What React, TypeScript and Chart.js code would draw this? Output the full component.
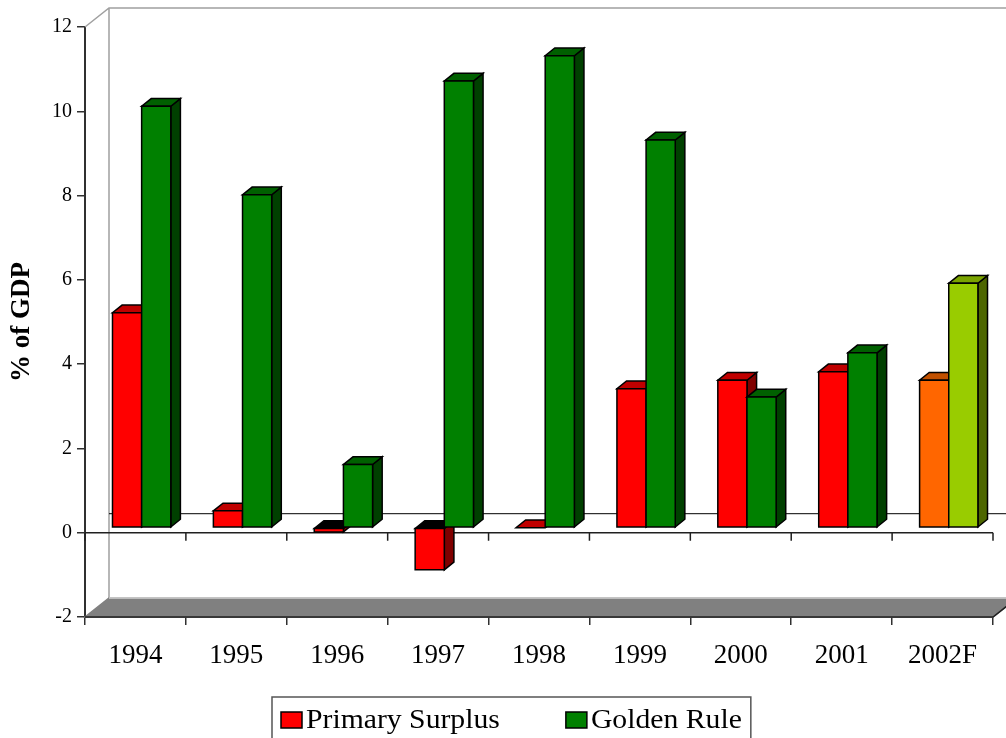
import { useEffect, useRef } from 'react';
import { Chart, registerables } from 'chart.js';

Chart.register(...registerables);

// Fiscal balance indicators, % of GDP
const years = ['1994', '1995', '1996', '1997', '1998', '1999', '2000', '2001', '2002F'];
const primarySurplus = [5.1, 0.4, -0.1, -1.0, 0.0, 3.3, 3.5, 3.7, 3.5];
const goldenRule = [10.0, 7.9, 1.5, 10.6, 11.2, 9.2, 3.1, 4.15, 5.8];
const seriesNames = ['Primary Surplus', 'Golden Rule'];
const primaryFill = ['#ff0000', '#ff0000', '#ff0000', '#ff0000', '#ff0000', '#ff0000', '#ff0000', '#ff0000', '#ff6600'];
const goldenFill = ['#008000', '#008000', '#008000', '#008000', '#008000', '#008000', '#008000', '#008000', '#99cc00'];
const yMin = -2;
const yMax = 12;
const yStep = 2;

const SERIF = '"Liberation Serif", "Times New Roman", serif';

// top / side face shades for each front colour
const shades: Record<string, [string, string]> = {
  '#ff0000': ['#c00000', '#800000'],
  '#008000': ['#006000', '#004000'],
  '#ff6600': ['#c05000', '#803300'],
  '#99cc00': ['#7aa300', '#4d6600'],
};

// perspective offsets: full depth of the plot box, bar front plane, bar depth
const DEPTH = { x: 24, y: -19 };
const FACE = { x: 6.2, y: -5 };
const BAR = { x: 9.6, y: -7.7 };

const poly = (ctx: CanvasRenderingContext2D, pts: number[][], fill: string) => {
  ctx.beginPath();
  ctx.moveTo(pts[0][0], pts[0][1]);
  for (let i = 1; i < pts.length; i++) ctx.lineTo(pts[i][0], pts[i][1]);
  ctx.closePath();
  ctx.fillStyle = fill;
  ctx.fill();
  ctx.stroke();
};

const box3d = {
  id: 'box3d',
  beforeDatasetsDraw(chart: any) {
    const { ctx, chartArea: a, scales } = chart;
    const y0 = scales.y.getPixelForValue(0);
    ctx.save();
    ctx.lineJoin = 'miter';

    // back wall outline
    ctx.strokeStyle = '#a0a0a0';
    ctx.lineWidth = 1.5;
    ctx.beginPath();
    ctx.moveTo(a.left, a.top);
    ctx.lineTo(a.left + DEPTH.x, a.top + DEPTH.y);
    ctx.lineTo(a.right + DEPTH.x + 40, a.top + DEPTH.y);
    ctx.moveTo(a.left + DEPTH.x, a.top + DEPTH.y);
    ctx.lineTo(a.left + DEPTH.x, a.bottom + DEPTH.y);
    ctx.stroke();

    // zero line on the back wall
    ctx.strokeStyle = '#000';
    ctx.lineWidth = 1;
    ctx.beginPath();
    ctx.moveTo(a.left + DEPTH.x, y0 + DEPTH.y);
    ctx.lineTo(a.right + DEPTH.x + 40, y0 + DEPTH.y);
    ctx.stroke();

    // floor slab
    ctx.lineWidth = 1.5;
    ctx.strokeStyle = '#808080';
    poly(ctx, [
      [a.left, a.bottom],
      [a.right, a.bottom],
      [a.right + DEPTH.x, a.bottom + DEPTH.y],
      [a.left + DEPTH.x, a.bottom + DEPTH.y],
    ], '#808080');
    ctx.strokeStyle = '#d0d0d0';
    ctx.beginPath();
    ctx.moveTo(a.left + DEPTH.x, a.bottom + DEPTH.y);
    ctx.lineTo(a.right + DEPTH.x + 40, a.bottom + DEPTH.y);
    ctx.stroke();
    ctx.strokeStyle = '#202020';
    ctx.beginPath();
    ctx.moveTo(a.left, a.bottom);
    ctx.lineTo(a.right, a.bottom);
    ctx.lineTo(a.right + DEPTH.x, a.bottom + DEPTH.y);
    ctx.stroke();

    // front zero line with category ticks
    const xs = scales.x;
    const step = (a.right - a.left) / years.length;
    ctx.strokeStyle = '#202020';
    ctx.lineWidth = 1.5;
    ctx.beginPath();
    ctx.moveTo(a.left, y0);
    ctx.lineTo(a.right, y0);
    for (let i = 0; i <= years.length; i++) {
      const x = i < years.length ? xs.getPixelForValue(i) - step / 2 : xs.getPixelForValue(i - 1) + step / 2;
      ctx.moveTo(x, y0);
      ctx.lineTo(x, y0 + 8);
    }
    ctx.stroke();

    // bars as boxes
    ctx.strokeStyle = '#000';
    ctx.lineWidth = 1.5;
    const metas = chart.data.datasets.map((_: any, d: number) => chart.getDatasetMeta(d));
    for (let i = 0; i < years.length; i++) {
      metas.forEach((meta: any, d: number) => {
        const el = meta.data[i];
        const value = chart.data.datasets[d].data[i] as number;
        const color = chart.data.datasets[d].backgroundColor[i] as string;
        const [topC, sideC] = shades[color];
        const xl = el.x - el.width / 2 + FACE.x;
        const xr = el.x + el.width / 2 + FACE.x;
        const yt = Math.min(el.y, el.base) + FACE.y;
        const yb = Math.max(el.y, el.base) + FACE.y;
        poly(ctx, [[xr, yt], [xr + BAR.x, yt + BAR.y], [xr + BAR.x, yb + BAR.y], [xr, yb]], sideC);
        poly(ctx, [[xl, yt], [xr, yt], [xr + BAR.x, yt + BAR.y], [xl + BAR.x, yt + BAR.y]], value < 0 ? '#000' : topC);
        if (yb - yt > 0.5) poly(ctx, [[xl, yt], [xr, yt], [xr, yb], [xl, yb]], color);
      });
    }
    ctx.restore();
    return false;
  },
  afterDraw(chart: any) {
    // legend box below the axis
    const ctx: CanvasRenderingContext2D = chart.ctx;
    ctx.save();
    ctx.font = `27px ${SERIF}`;
    ctx.textBaseline = 'alphabetic';
    const stretch = 1.1;
    const boxL = 272;
    const boxT = 697;
    const colors = [primaryFill[0], goldenFill[0]];
    const sw = 21;
    const sh = 16;
    let x = boxL + 9;
    const positions: number[] = [];
    seriesNames.forEach((name, i) => {
      positions.push(x);
      x += sw + 4 + ctx.measureText(name).width * stretch + (i === 0 ? 66 : 9);
    });
    const boxW = x - boxL;
    ctx.strokeStyle = '#555';
    ctx.lineWidth = 1.5;
    ctx.strokeRect(boxL, boxT, boxW, 60);
    seriesNames.forEach((name, i) => {
      const px = positions[i];
      ctx.fillStyle = colors[i];
      ctx.fillRect(px, 712, sw, sh);
      ctx.strokeStyle = '#000';
      ctx.strokeRect(px, 712, sw, sh);
      ctx.fillStyle = '#000';
      ctx.save();
      ctx.translate(px + sw + 4, 728);
      ctx.scale(stretch, 1);
      ctx.fillText(name, 0, 0);
      ctx.restore();
    });
    ctx.restore();
  },
};

export default function App() {
  const ref = useRef<HTMLCanvasElement>(null);

  useEffect(() => {
    document.body.style.margin = '0';
    const chart = new Chart(ref.current!, {
      type: 'bar',
      data: {
        labels: years,
        datasets: [
          { label: seriesNames[0], data: primarySurplus, backgroundColor: primaryFill },
          { label: seriesNames[1], data: goldenRule, backgroundColor: goldenFill },
        ],
      },
      options: {
        responsive: false,
        animation: false,
        events: [],
        layout: { padding: { top: 27, right: 13, left: 0, bottom: 0 } },
        datasets: { bar: { categoryPercentage: 0.578, barPercentage: 1 } },
        plugins: { legend: { display: false }, tooltip: { enabled: false } },
        scales: {
          x: {
            grid: { offset: true, drawOnChartArea: false, tickLength: 8, color: '#303030', lineWidth: 1.5 },
            border: { color: '#202020', width: 1.5 },
            ticks: { color: '#000', font: { family: SERIF, size: 27 }, padding: 15, maxRotation: 0 },
            afterFit: (s: any) => { s.height = 121; },
          },
          y: {
            min: yMin,
            max: yMax,
            ticks: { stepSize: yStep, color: '#000', font: { family: SERIF, size: 20 }, padding: 5 },
            grid: { drawOnChartArea: false, tickLength: 8, color: '#303030', lineWidth: 1.5 },
            border: { color: '#303030', width: 2 },
            title: { display: true, text: '% of GDP', color: '#000', font: { family: SERIF, size: 27, weight: 'bold' }, padding: { top: 6, bottom: 0 } },
            afterFit: (s: any) => { s.width = 85; },
          },
        },
      },
      plugins: [box3d],
    });
    return () => chart.destroy();
  }, []);

  return (
    <div style={{ position: 'absolute', left: 0, top: 0, width: 1006, height: 738, background: '#fff' }}>
      <canvas ref={ref} width={1006} height={738} style={{ display: 'block' }} />
    </div>
  );
}
